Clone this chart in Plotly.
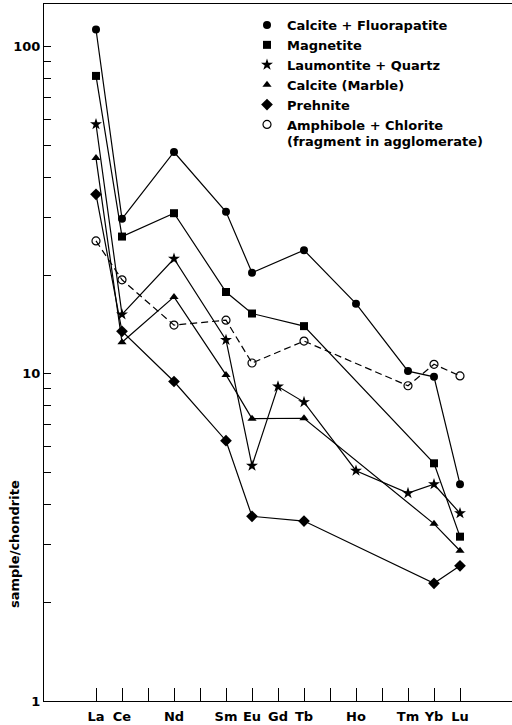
import plotly.graph_objects as go

elements = ["La", "Ce", "Pr", "Nd", "Pm", "Sm", "Eu", "Gd", "Tb", "Dy", "Ho", "Er", "Tm", "Yb", "Lu"]
tick_labels = ["La", "Ce", "", "Nd", "", "Sm", "Eu", "Gd", "Tb", "", "Ho", "", "Tm", "Yb", "Lu"]

calc_fluor_el = ["La", "Ce", "Nd", "Sm", "Eu", "Tb", "Ho", "Tm", "Yb", "Lu"]
calc_fluor = [113, 29.8, 47.7, 31.3, 20.4, 23.9, 16.4, 10.2, 9.8, 4.6]

magnetite_el = ["La", "Ce", "Nd", "Sm", "Eu", "Tb", "Yb", "Lu"]
magnetite = [81.5, 26.3, 31.0, 17.8, 15.3, 14.0, 5.33, 3.18]

laum_el = ["La", "Ce", "Nd", "Sm", "Eu", "Gd", "Tb", "Ho", "Tm", "Yb", "Lu"]
laum = [58, 15.2, 22.5, 12.7, 5.24, 9.15, 8.2, 5.06, 4.32, 4.6, 3.75]

marble_el = ["La", "Ce", "Nd", "Sm", "Eu", "Tb", "Yb", "Lu"]
marble = [45.7, 12.5, 17.2, 9.93, 7.3, 7.32, 3.48, 2.88]

prehnite_el = ["La", "Ce", "Nd", "Sm", "Eu", "Tb", "Yb", "Lu"]
prehnite = [35.4, 13.5, 9.48, 6.25, 3.67, 3.55, 2.29, 2.59]

amph_el = ["La", "Ce", "Nd", "Sm", "Eu", "Tb", "Tm", "Yb", "Lu"]
amph = [25.5, 19.4, 14.1, 14.6, 10.8, 12.6, 9.2, 10.7, 9.86]

series_names = ["Calcite + Fluorapatite", "Magnetite", "Laumontite + Quartz",
                "Calcite (Marble)", "Prehnite",
                "Amphibole + Chlorite<br>(fragment in agglomerate)"]

y_tickvals = [1, 2, 3, 4, 5, 6, 7, 8, 9, 10, 20, 30, 40, 50, 60, 70, 80, 90, 100]
y_ticktext = ["1"] + [""] * 8 + ["10"] + [""] * 8 + ["100"]

FONT = "DejaVu Sans"

def xi(els):
    return [elements.index(e) for e in els]

styles = [
    dict(symbol="circle", size=8, color="black", line=dict(width=0)),
    dict(symbol="square", size=8, color="black", line=dict(width=0)),
    dict(symbol="star", size=9, color="black", line=dict(width=0)),
    dict(symbol="triangle-up", size=8, color="black", line=dict(width=0)),
    dict(symbol="diamond", size=9, color="black", line=dict(width=0)),
    dict(symbol="circle-open", size=8, color="black", line=dict(width=1.2)),
]
dashes = ["solid"] * 5 + ["7px,4px"]
data = [(calc_fluor_el, calc_fluor), (magnetite_el, magnetite), (laum_el, laum),
        (marble_el, marble), (prehnite_el, prehnite), (amph_el, amph)]

fig = go.Figure()
for (els, vals), st, ds, nm in zip(data, styles, dashes, series_names):
    fig.add_trace(go.Scatter(x=xi(els), y=vals, mode="lines+markers",
                             line=dict(color="black", width=1.2, dash=ds),
                             marker=st, showlegend=False, name=nm))
for st, nm in zip(styles, series_names):
    fig.add_trace(go.Scatter(x=[None], y=[None], mode="markers", marker=st,
                             name=nm, showlegend=True))

fig.update_layout(
    width=512, height=725,
    margin=dict(l=44, r=0, t=4, b=24),
    paper_bgcolor="white", plot_bgcolor="white",
    font=dict(family=FONT, size=13, color="black", weight="bold"),
    legend=dict(x=(247 - 44) / 468, y=1 - (10 - 4) / 697, xanchor="left", yanchor="top",
                bgcolor="rgba(0,0,0,0)", borderwidth=0, itemwidth=30,
                tracegroupgap=0, valign="top", font=dict(family=FONT, size=13, weight="bold")),
    xaxis=dict(range=[-2, 16], tickvals=list(range(len(elements))), ticktext=tick_labels,
               ticks="inside", ticklen=13, tickwidth=1.2, tickcolor="black",
               showline=True, linecolor="black", linewidth=1.2, mirror=True,
               showgrid=False, zeroline=False, ticklabelstandoff=3),
    yaxis=dict(type="log", range=[0, 2.131], tickvals=y_tickvals, ticktext=y_ticktext,
               ticks="inside", ticklen=7, tickwidth=1.2, tickcolor="black",
               showline=True, linecolor="black", linewidth=1.2,
               showgrid=False, zeroline=False),
    annotations=[dict(text="sample/chondrite", textangle=-90, xref="paper", yref="paper",
                      x=(14 - 44) / 468, y=(701 - 544) / 697, showarrow=False,
                      xanchor="center", yanchor="middle",
                      font=dict(family=FONT, size=13, weight="bold"))],
)

fig.write_html("out.html", config={"displayModeBar": False},
               post_script="document.body.style.margin='0';document.body.style.padding='0';")
